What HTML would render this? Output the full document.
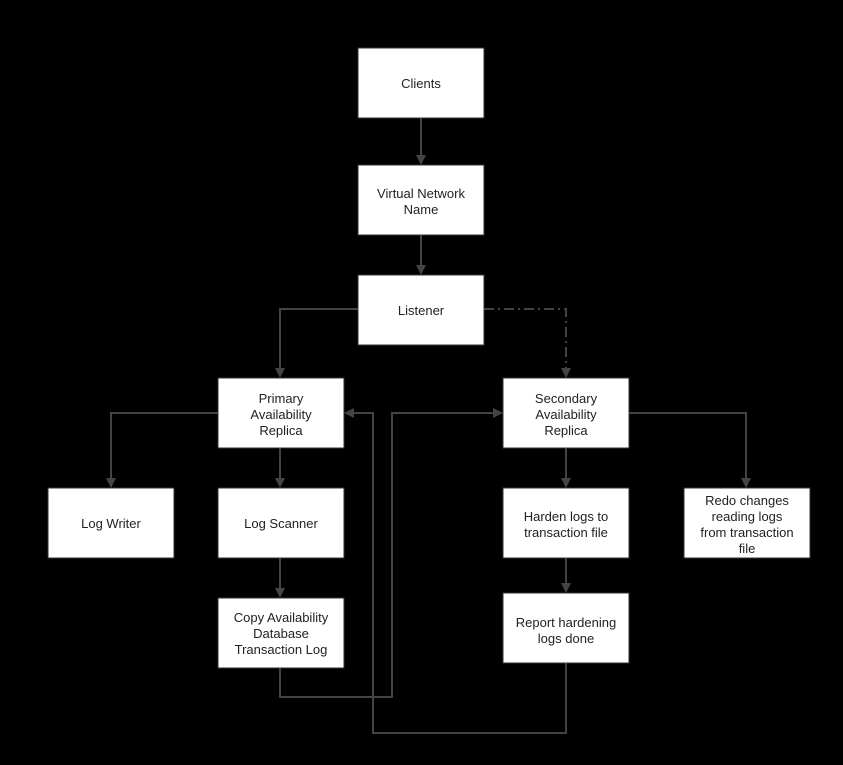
<!DOCTYPE html>
<html><head><meta charset="utf-8"><style>
html,body{margin:0;padding:0;background:#000;}
svg{display:block;}
text{font-family:"Liberation Sans",sans-serif;font-size:13px;fill:#222;text-anchor:middle;}
</style></head><body>
<svg width="843" height="765" viewBox="0 0 843 765" xmlns="http://www.w3.org/2000/svg">
<defs>
<marker id="a" markerWidth="10" markerHeight="10" refX="8" refY="5" orient="auto" markerUnits="userSpaceOnUse">
<path d="M0,0 L10,5 L0,10 z" fill="#444"/></marker>
</defs>
<rect width="843" height="765" fill="#000"/>
<g fill="#fff" stroke="#333" stroke-width="1">
<rect x="358" y="48" width="126" height="70"/>
<rect x="358" y="165" width="126" height="70"/>
<rect x="358" y="275" width="126" height="70"/>
<rect x="218" y="378" width="126" height="70"/>
<rect x="503" y="378" width="126" height="70"/>
<rect x="48" y="488" width="126" height="70"/>
<rect x="218" y="488" width="126" height="70"/>
<rect x="218" y="598" width="126" height="70"/>
<rect x="503" y="488" width="126" height="70"/>
<rect x="503" y="593" width="126" height="70"/>
<rect x="684" y="488" width="126" height="70"/>
</g>
<g fill="none" stroke="#444" stroke-width="2">
<path d="M421 118 V163" marker-end="url(#a)"/>
<path d="M421 235 V273" marker-end="url(#a)"/>
<path d="M358 309 H280 V376" marker-end="url(#a)"/>
<path d="M484 309 H566 V376" stroke-dasharray="10,4,2,4" marker-end="url(#a)"/>
<path d="M218 413 H111 V486" marker-end="url(#a)"/>
<path d="M280 448 V486" marker-end="url(#a)"/>
<path d="M280 558 V596" marker-end="url(#a)"/>
<path d="M566 448 V486" marker-end="url(#a)"/>
<path d="M566 558 V591" marker-end="url(#a)"/>
<path d="M629 413 H746 V486" marker-end="url(#a)"/>
<path d="M280 668 V697 H392 V413 H501" marker-end="url(#a)"/>
<path d="M566 663 V733 H373 V413 H346" marker-end="url(#a)"/>
</g>
<text x="421" y="88">Clients</text>
<text x="421" y="198">Virtual Network</text>
<text x="421" y="214">Name</text>
<text x="421" y="315">Listener</text>
<text x="281" y="403">Primary</text>
<text x="281" y="419">Availability</text>
<text x="281" y="435">Replica</text>
<text x="566" y="403">Secondary</text>
<text x="566" y="419">Availability</text>
<text x="566" y="435">Replica</text>
<text x="111" y="528">Log Writer</text>
<text x="281" y="528">Log Scanner</text>
<text x="281" y="622">Copy Availability</text>
<text x="281" y="638">Database</text>
<text x="281" y="654">Transaction Log</text>
<text x="566" y="521">Harden logs to</text>
<text x="566" y="537">transaction file</text>
<text x="566" y="627">Report hardening</text>
<text x="566" y="643">logs done</text>
<text x="747" y="505">Redo changes</text>
<text x="747" y="521">reading logs</text>
<text x="747" y="537">from transaction</text>
<text x="747" y="553">file</text>
</svg>
</body></html>
